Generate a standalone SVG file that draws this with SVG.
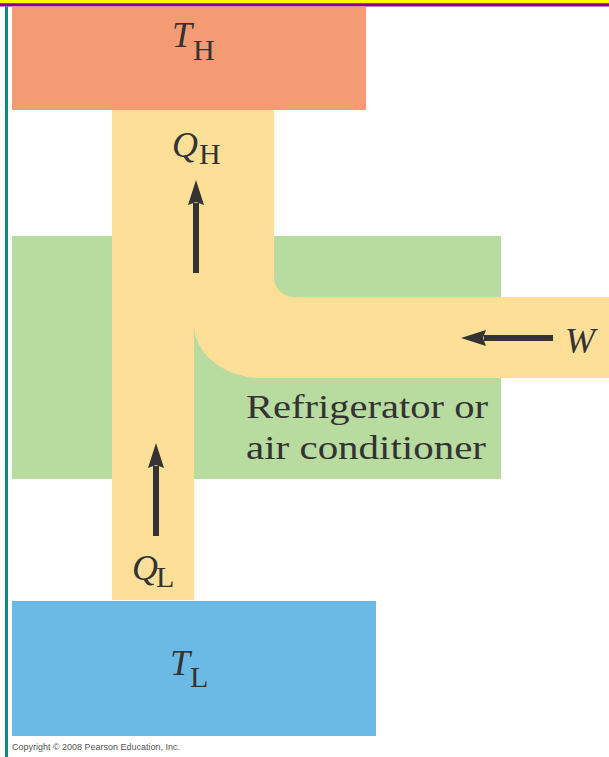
<svg xmlns="http://www.w3.org/2000/svg" width="609" height="757" viewBox="0 0 609 757">
<defs>
<style>
.sym{font-family:"Liberation Serif","Times New Roman",serif;font-style:italic;fill:#333333;font-size:36px}
.sub{font-family:"Liberation Serif","Times New Roman",serif;fill:#333333;font-size:30px}
.lbl{font-family:"Liberation Serif","Times New Roman",serif;fill:#333333;font-size:33px}
.arr{stroke:#333333;stroke-width:6;fill:none;marker-end:url(#head)}
</style>
<marker id="head" markerUnits="userSpaceOnUse" markerWidth="30" markerHeight="20" viewBox="0 -10 30 20" refX="2" refY="0" orient="auto">
<path d="M0,-8 L25,0 L0,8 L3,0 Z" fill="#333333"/>
</marker>
</defs>
<rect width="609" height="757" fill="#ffffff"/>
<rect x="0" y="0" width="609" height="3.2" fill="#FFFF00"/>
<rect x="0" y="3.2" width="609" height="3.3" fill="#8B008B"/>
<rect x="5" y="6.5" width="3" height="751" fill="#0A8A80"/>

<g id="refrigerator">
<rect x="12" y="236" width="489" height="243" fill="#B8DBA0"/>
</g>
<g id="flow">
<path d="M112,110 H274 V277 A20,20 0 0 0 294,297 H609 V378 H262 A68,54 0 0 1 194,324 V600 H112 Z" fill="#FDDF97"/>
</g>
<g id="hot">
<rect x="12" y="6.5" width="354" height="103.5" fill="#F59B73"/>
<text class="sym" x="172" y="47">T</text><text class="sub" x="193" y="60">H</text>
</g>
<g id="cold">
<rect x="12" y="601" width="364" height="135" fill="#6BBAE6"/>
<text class="sym" x="170" y="675">T</text><text class="sub" x="190" y="687">L</text>
</g>

<g id="connectors">
<path class="arr" d="M196,273 V203"/>
<path class="arr" d="M156,536 V466"/>
<path class="arr" d="M553,338 H484"/>
</g>

<g id="labels">
<text class="sym" x="172" y="157">Q</text><text class="sub" x="199" y="164">H</text>
<text class="sym" x="132" y="580">Q</text><text class="sub" x="156" y="587">L</text>
<text class="sym" x="565" y="353">W</text>
<text class="lbl" x="246" y="418" textLength="242" lengthAdjust="spacingAndGlyphs">Refrigerator or</text>
<text class="lbl" x="246" y="459" textLength="240" lengthAdjust="spacingAndGlyphs">air conditioner</text>
<text x="12" y="750" font-family="'Liberation Sans',Arial,sans-serif" font-size="9.5" fill="#555555" textLength="168" lengthAdjust="spacingAndGlyphs">Copyright © 2008 Pearson Education, Inc.</text>
</g>
</svg>
